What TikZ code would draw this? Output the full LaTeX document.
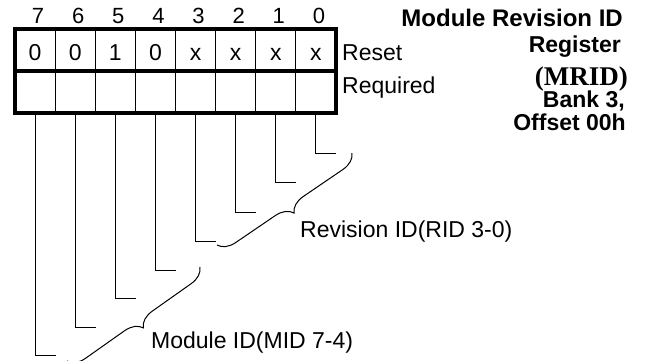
\documentclass[tikz,border=0pt]{standalone}
\usepackage{fontspec}
\setmainfont{Liberation Sans}
\newfontfamily\serifbold{Liberation Serif}
\usetikzlibrary{positioning, calc, decorations.pathreplacing}
\tikzset{
  cell/.style     = {draw, rectangle, line width=1pt, outer sep=0pt,
                     minimum width=40.125pt, minimum height=42pt,
                     inner sep=0pt, font=\fontsize{23}{23}\selectfont,
                     text height=21pt, text depth=0pt},
  bitnum/.style   = {inner sep=0pt, xshift=3pt,
                     font=\fontsize{22}{22}\selectfont,
                     text height=16pt, text depth=0pt},
  outline/.style  = {line width=3.3pt},
  rowtag/.style   = {inner sep=0pt, font=\fontsize{23}{23}\selectfont},
  regname/.style  = {inner sep=0pt, anchor=base east,
                     font=\bfseries\fontsize{23}{23}\selectfont},
  leadline/.style = {line width=1pt},
  fieldbrace/.style = {decorate, decoration={brace, amplitude=17pt},
                     line width=1pt}
}

\begin{document}
\begin{tikzpicture}[x=1pt, y=-1pt]
  \useasboundingbox (0,0) rectangle (647,360);

  %%──────────────────────────────────────────────────────────────────────────
  %%  REGISTER CELLS  (top row = reset value, bottom row = required)
  %%──────────────────────────────────────────────────────────────────────────
  \node[cell]                    (r7) at (35.06,50) {0};
  \node[cell, right=0pt of r7]   (r6) {0};
  \node[cell, right=0pt of r6]   (r5) {1};
  \node[cell, right=0pt of r5]   (r4) {0};
  \node[cell, right=0pt of r4]   (r3) {x};
  \node[cell, right=0pt of r3]   (r2) {x};
  \node[cell, right=0pt of r2]   (r1) {x};
  \node[cell, right=0pt of r1]   (r0) {x};

  \node[cell, below=0pt of r7]   (q7) {};
  \node[cell, below=0pt of r6]   (q6) {};
  \node[cell, below=0pt of r5]   (q5) {};
  \node[cell, below=0pt of r4]   (q4) {};
  \node[cell, below=0pt of r3]   (q3) {};
  \node[cell, below=0pt of r2]   (q2) {};
  \node[cell, below=0pt of r1]   (q1) {};
  \node[cell, below=0pt of r0]   (q0) {};

  %% Heavy outer frame and row separator
  \draw[outline] (r7.north west) rectangle (q0.south east);
  \draw[outline] (r7.south west) -- (r0.south east);

  %%──────────────────────────────────────────────────────────────────────────
  %%  BIT NUMBERS
  %%──────────────────────────────────────────────────────────────────────────
  \node[bitnum, above=5pt of r7] (b7) {7};
  \node[bitnum, above=5pt of r6] (b6) {6};
  \node[bitnum, above=5pt of r5] (b5) {5};
  \node[bitnum, above=5pt of r4] (b4) {4};
  \node[bitnum, above=5pt of r3] (b3) {3};
  \node[bitnum, above=5pt of r2] (b2) {2};
  \node[bitnum, above=5pt of r1] (b1) {1};
  \node[bitnum, above=5pt of r0] (b0) {0};

  %% Row tags
  \node[rowtag, anchor=base west] (reset) at ($(r0.east)+(6,10)$) {Reset};
  \node[rowtag, anchor=base west] (reqd)  at ($(q0.east)+(6,1)$)  {Required};

  %%──────────────────────────────────────────────────────────────────────────
  %%  REGISTER NAME  (right-aligned block)
  %%──────────────────────────────────────────────────────────────────────────
  \node[regname, font=\bfseries\fontsize{24}{24}\selectfont]
        (nm1) at (623,26)  {Module Revision ID};
  \node[regname] (nm2) at (621,52)  {Register};
  \node[regname, font=\serifbold\bfseries\fontsize{27}{27}\selectfont]
        (nm3) at (628,85)  {(MRID)};
  \node[regname] (nm4) at (625,107) {Bank 3,};
  \node[regname] (nm5) at (626,130) {Offset 00h};

  %%──────────────────────────────────────────────────────────────────────────
  %%  LEADER LINES
  %%──────────────────────────────────────────────────────────────────────────
  \coordinate (f7) at (56,355);
  \coordinate (f6) at (96,327);
  \coordinate (f5) at (136,298);
  \coordinate (f4) at (176,270);
  \coordinate (f3) at (216,241);
  \coordinate (f2) at (256,212);
  \coordinate (f1) at (296,182);
  \coordinate (f0) at (336,153);

  \draw[leadline] (q7.south) |- (f7);
  \draw[leadline] (q6.south) |- (f6);
  \draw[leadline] (q5.south) |- (f5);
  \draw[leadline] (q4.south) |- (f4);
  \draw[leadline] (q3.south) |- (f3);
  \draw[leadline] (q2.south) |- (f2);
  \draw[leadline] (q1.south) |- (f1);
  \draw[leadline] (q0.south) |- (f0);

  %%──────────────────────────────────────────────────────────────────────────
  %%  FIELD BRACES
  %%──────────────────────────────────────────────────────────────────────────
  \coordinate (ridA) at (352,153);
  \coordinate (ridB) at (217,245);
  \coordinate (midA) at (200,267);
  \coordinate (midB) at (67,361);

  \draw[fieldbrace] (ridA) -- (ridB);
  \draw[fieldbrace] (midA) -- (midB);

  \node[rowtag, anchor=base west] (rid) at (300,237) {Revision ID(RID 3-0)};
  \node[rowtag, anchor=base west] (mid) at (151,348) {Module ID(MID 7-4)};

\end{tikzpicture}
\end{document}
